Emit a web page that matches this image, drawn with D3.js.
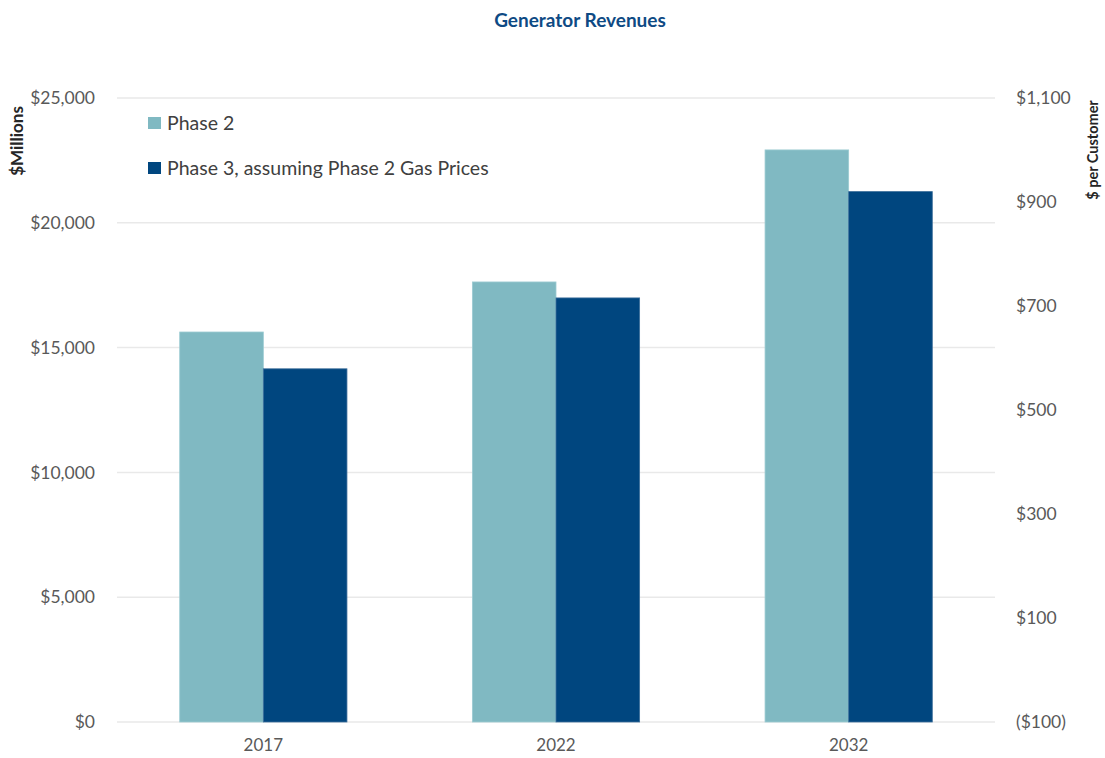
<!DOCTYPE html>
<html>
<head>
<meta charset="utf-8">
<script src="https://cdn.jsdelivr.net/npm/d3@7"></script>
<style>
  body { margin: 0; background: #fff; }
  text { font-family: Lato, "Noto Sans", sans-serif; }
</style>
</head>
<body>
<div id="wrapper"></div>
<script>
// data ($ millions)
const years = ['2017', '2022', '2032'];
const seriesNames = ['Phase 2', 'Phase 3, assuming Phase 2 Gas Prices'];
const phase2 = [15625, 17630, 22920];
const phase3 = [14150, 16990, 21250];
const leftTicks = [0, 5000, 10000, 15000, 20000, 25000];
const rightTicks = [-100, 100, 300, 500, 700, 900, 1100];
const colors = ['#80b9c2', '#00467f'];

const width = 1105, height = 758;
const plot = { left: 117, right: 995, top: 98, bottom: 722 };

const svg = d3.select('#wrapper').append('svg')
  .attr('width', width).attr('height', height);

const x0 = d3.scaleBand().domain(years).range([plot.left, plot.right]).padding(0);
const x1 = d3.scaleBand().domain(d3.range(seriesNames.length))
  .range([0, x0.bandwidth()]).paddingInner(0).paddingOuter(0.75);
const y = d3.scaleLinear().domain([0, 25000]).range([plot.bottom, plot.top]);
const y2 = d3.scaleLinear().domain([-100, 1100]).range([plot.bottom, plot.top]);

// gridlines
svg.append('g')
  .selectAll('line')
  .data(leftTicks)
  .enter()
  .append('line')
  .attr('x1', plot.left).attr('x2', plot.right)
  .attr('y1', d => y(d)).attr('y2', d => y(d))
  .attr('stroke', '#e9e9e9').attr('stroke-width', 1.5);

// left axis
const fmt = d3.format(',');
const leftAxis = svg.append('g')
  .attr('transform', `translate(${plot.left - 19},0)`)
  .call(d3.axisLeft(y).tickValues(leftTicks).tickSize(0).tickFormat(d => '$' + fmt(d)));
leftAxis.select('.domain').remove();
leftAxis.selectAll('text').attr('font-size', 17.5).attr('fill', '#595959').attr('font-family', 'Lato');

// right axis
const rightAxis = svg.append('g')
  .attr('transform', `translate(${plot.right + 18},0)`)
  .call(d3.axisRight(y2).tickValues(rightTicks).tickSize(0)
    .tickFormat(d => d < 0 ? '($' + fmt(-d) + ')' : '$' + fmt(d)));
rightAxis.select('.domain').remove();
rightAxis.selectAll('text').attr('font-size', 17.5).attr('fill', '#595959').attr('font-family', 'Lato');

// bars
const rows = years.map((yr, i) => ({ year: yr, values: [phase2[i], phase3[i]] }));
const groups = svg.append('g')
  .selectAll('g')
  .data(rows)
  .enter()
  .append('g')
  .attr('transform', d => `translate(${x0(d.year)},0)`);

groups.selectAll('rect')
  .data(d => d.values.map((v, k) => ({ k, v })))
  .enter()
  .append('rect')
  .attr('x', d => x1(d.k))
  .attr('width', x1.bandwidth())
  .attr('y', d => y(d.v))
  .attr('height', d => y(0) - y(d.v))
  .attr('fill', d => colors[d.k])
  .attr('stroke', d => d.k === 0 ? '#9ccbd2' : '#3a6d9a')
  .attr('stroke-width', 0.8);

// category labels
const xAxis = svg.append('g')
  .attr('transform', `translate(0,${plot.bottom + 14})`)
  .call(d3.axisBottom(x0).tickSize(0));
xAxis.select('.domain').remove();
xAxis.selectAll('text').attr('font-size', 17).attr('fill', '#595959').attr('font-family', 'Lato');

// title
svg.append('text')
  .attr('x', 580).attr('y', 27)
  .attr('text-anchor', 'middle')
  .attr('font-size', 19).attr('font-weight', 'bold')
  .attr('fill', '#0e4a84')
  .text('Generator Revenues');

// axis titles
svg.append('text')
  .attr('transform', 'translate(23,141) rotate(-90)')
  .attr('text-anchor', 'middle')
  .attr('font-size', 17).attr('font-weight', 'bold').attr('fill', '#262626')
  .text('$Millions');

svg.append('text')
  .attr('transform', 'translate(1098,150) rotate(-90)')
  .attr('text-anchor', 'middle')
  .attr('font-size', 14.5).attr('font-weight', 'bold').attr('fill', '#262626')
  .text('$ per Customer');

// legend
const legend = svg.append('g')
  .selectAll('g')
  .data(seriesNames)
  .enter()
  .append('g')
  .attr('transform', (d, i) => `translate(148,${117 + i * 45})`);
legend.append('rect')
  .attr('width', 13).attr('height', 12)
  .attr('fill', (d, i) => colors[i]);
legend.append('text')
  .attr('x', 19).attr('y', 12.5)
  .attr('font-size', 19.5).attr('fill', '#404040')
  .text(d => d);
</script>
</body>
</html>
